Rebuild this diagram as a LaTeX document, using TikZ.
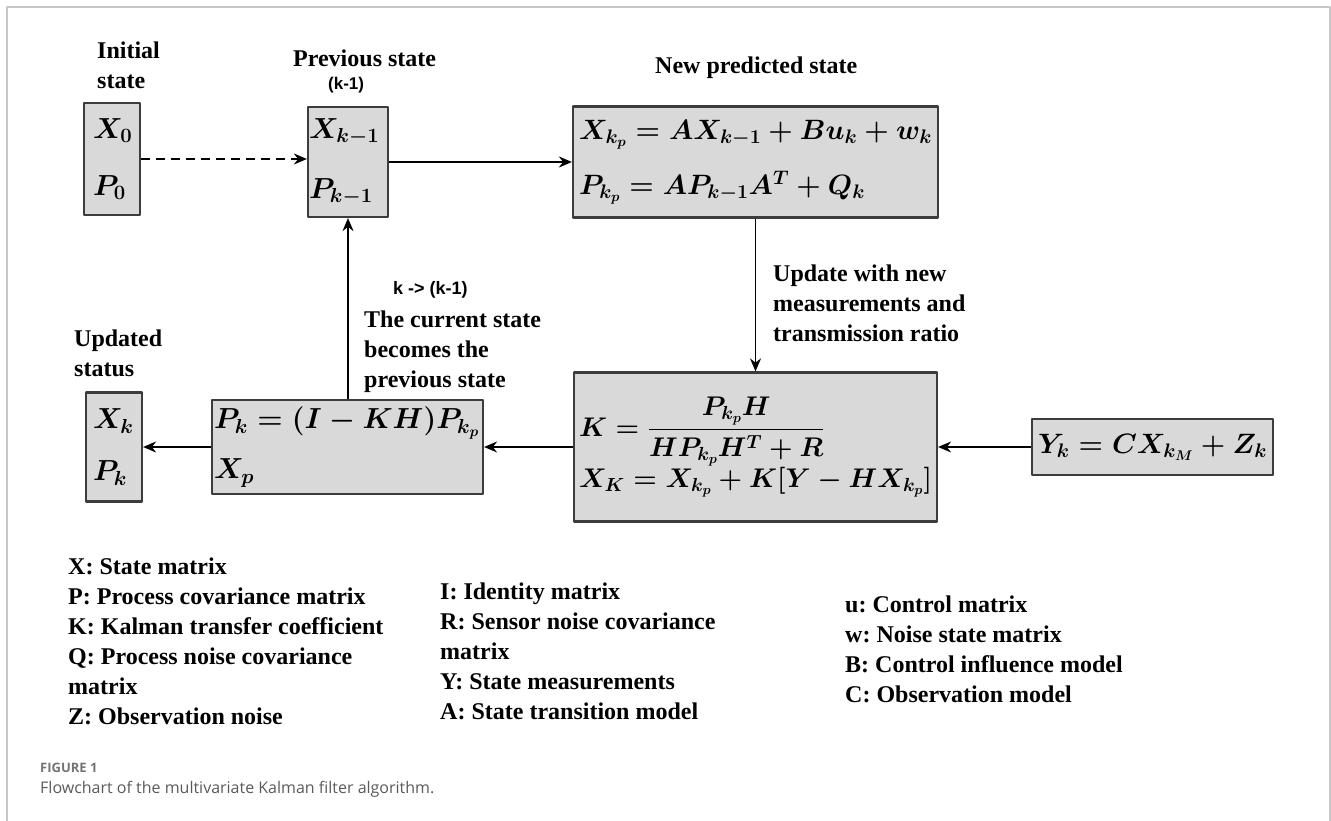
\RequirePackage{fix-cm}
\documentclass[tikz,border=0pt]{standalone}
\usepackage{amsmath}
\usepackage{fontspec}
\setmainfont{Liberation Serif}
\newfontfamily\tagsans{Liberation Sans}
\newfontfamily\capsans{Open Sans}
\usetikzlibrary{arrows.meta}

\definecolor{boxfill}{HTML}{D9D9D9}
\definecolor{boxline}{HTML}{3C3C3C}
\definecolor{framegray}{HTML}{C8C8C8}
\definecolor{capgray}{HTML}{5A5A5A}

\begin{document}
\frenchspacing
\begin{tikzpicture}[x=1pt,y=-1pt,>={Stealth[length=13pt,width=11pt]},line join=round,
  stbox/.style={draw=boxline,fill=boxfill,line width=2.2pt,inner ysep=0pt,align=left},
  eqn/.style n args={2}{font=\fontsize{#1}{#2}\selectfont\boldmath},
  ttl/.style={font=\fontsize{24}{30}\selectfont\bfseries,align=left,anchor=north west,inner sep=0pt},
  tag/.style={font=\fontsize{18}{22}\selectfont\tagsans\bfseries,anchor=north west,inner sep=0pt},
  flow/.style={->,line width=1.6pt}]
  \useasboundingbox (0,0) rectangle (1331,821);
  \draw[framegray,line width=1.2pt] (7,821) -- (7,7) -- (1330,7) -- (1330,821);

  % boxes
  \node[stbox,eqn={29}{57},text width=38pt,inner xsep=9pt,minimum height=112pt] (init) at (112,159) {$X_0$\\$P_0$};
  \node[stbox,eqn={29}{60},text width=78pt,inner xsep=1pt,minimum height=110pt] (prev) at (348,162) {$X_{k-1}$\\$P_{k-1}$};
  \node[stbox,eqn={28}{55},text width=353pt,inner xsep=6pt,minimum height=111pt] (pred) at (755.5,162) {$X_{k_p} = AX_{k-1} + Bu_k + w_k$\\$P_{k_p} = AP_{k-1}A^T + Q_k$};
  \node[stbox,eqn={27}{30},text width=353pt,inner xsep=5pt,minimum height=149pt] (gain) at (755.5,447) {$K = \dfrac{P_{k_p}H}{HP_{k_p}H^T + R}$\\$X_K = X_{k_p} + K[Y - HX_{k_p}]$};
  \node[stbox,eqn={28}{30},minimum width=241pt,minimum height=56pt,inner xsep=0pt,align=center] (meas) at (1152.5,447) {$Y_k = CX_{k_M} + Z_k$};
  \node[stbox,eqn={29}{50},text width=267pt,inner xsep=2pt,minimum height=94pt] (upd) at (347.5,447) {$P_k = (I - KH)P_{k_p}$\\$X_p$};
  \node[stbox,eqn={29}{52},text width=42pt,inner xsep=7pt,minimum height=109pt] (out) at (114,447) {$X_k$\\$P_k$};

  % labels
  \node[ttl] (initT) at (97,42) {Initial\\state};
  \node[ttl] (prevT) at (293,50) {Previous state};
  \node[tag,font=\fontsize{17}{20}\selectfont\tagsans\bfseries] (prevK) at (328,77) {(k-1)};
  \node[ttl] (predT) at (655,57) {New predicted state};
  \node[tag] (loopT) at (393,281) {k -> (k-1)};
  \node[ttl] (curT) at (364,311) {The current state\\becomes the\\previous state};
  \node[ttl] (measT) at (773,265) {Update with new\\measurements and\\transmission ratio};
  \node[ttl] (outT) at (74,330) {Updated\\status};

  % connectors
  \draw[flow,dashed,dash pattern=on 9pt off 6pt] (init.east) -- (init.east -| prev.west);
  \draw[flow] (prev) -- (pred);
  \draw[flow] (pred) -- (gain);
  \draw[flow] (meas) -- (gain);
  \draw[flow] (gain) -- (upd);
  \draw[flow] (upd) -- (out);
  \draw[flow] (upd.north -| prev.south) -- (prev.south);

  % legend
  \node[ttl] (legA) at (68,558) {X: State matrix\\P: Process covariance matrix\\K: Kalman transfer coefficient\\Q: Process noise covariance\\matrix\\Z: Observation noise};
  \node[ttl] (legB) at (440,583) {I: Identity matrix\\R: Sensor noise covariance\\matrix\\Y: State measurements\\A: State transition model};
  \node[ttl] (legC) at (845,596) {u: Control matrix\\w: Noise state matrix\\B: Control influence model\\C: Observation model};

  % caption
  \node[anchor=north west,inner sep=0pt,font=\fontsize{13}{15}\selectfont\capsans\bfseries,text=capgray!85] (figT) at (40,763) {FIGURE 1};
  \node[anchor=north west,inner sep=0pt,font=\fontsize{16}{19}\selectfont\capsans,text=capgray] (capT) at (40,781) {Flowchart of the multivariate Kalman filter algorithm.};
\end{tikzpicture}
\end{document}
